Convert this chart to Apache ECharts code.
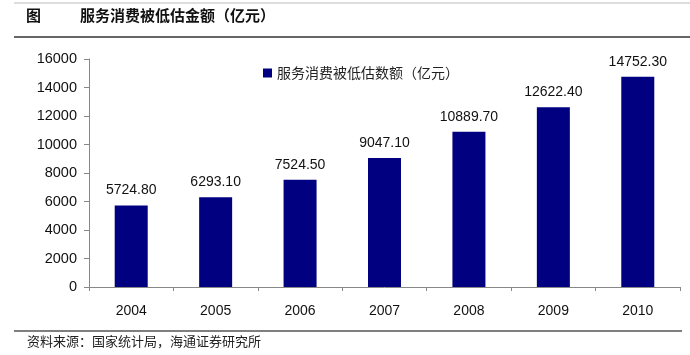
<!DOCTYPE html>
<html><head><meta charset="utf-8">
<script src="https://cdn.jsdelivr.net/npm/echarts@6/dist/echarts.min.js"></script>
<style>html,body{margin:0;padding:0;background:#fff}#c{width:690px;height:355px}</style>
</head><body><div id="c"></div>
<script>
const categories = ['2004','2005','2006','2007','2008','2009','2010'];
const values = [5724.80, 6293.10, 7524.50, 9047.10, 10889.70, 12622.40, 14752.30];
const seriesName = '服务消费被低估数额（亿元）';
const titleText = '服务消费被低估金额（亿元）';
const sourceText = '资料来源：国家统计局，海通证券研究所';

const chart = echarts.init(document.getElementById('c'));
chart.setOption({
  animation: false,
  backgroundColor: '#fff',
  grid: {left: 89, right: 10, top: 59, bottom: 68},
  legend: {
    data: [seriesName], left: 258, top: 61, itemWidth: 9, itemHeight: 9, itemGap: 4,
    icon: 'rect',
    textStyle: {fontFamily: 'Noto Sans CJK SC', fontSize: 14, color: '#222'}
  },
  graphic: [
    {type: 'line', shape: {x1: 14, y1: 3, x2: 690, y2: 3}, style: {stroke: '#bbb', lineWidth: 1}},
    {type: 'line', shape: {x1: 14, y1: 37, x2: 690, y2: 37}, style: {stroke: '#333', lineWidth: 1.5}},
    {type: 'text', left: 26, top: 8, style: {text: '图', font: 'bold 15px "Noto Sans CJK SC"', fill: '#111'}},
    {type: 'text', left: 80, top: 8, style: {text: titleText, font: 'bold 15px "Noto Sans CJK SC"', fill: '#111'}},
    {type: 'line', shape: {x1: 14, y1: 331, x2: 682, y2: 331}, style: {stroke: '#555', lineWidth: 1.5}},
    {type: 'text', left: 27, top: 335, style: {text: sourceText, font: '13px "Noto Sans CJK SC"', fill: '#222'}}
  ],
  xAxis: {
    type: 'category', data: categories,
    axisLine: {lineStyle: {color: '#888'}},
    axisTick: {show: true, length: 4, lineStyle: {color: '#888'}},
    axisLabel: {fontFamily: 'Liberation Sans', fontSize: 14, color: '#111', margin: 17}
  },
  yAxis: {
    type: 'value', min: 0, max: 16000, interval: 2000,
    axisLine: {show: true, lineStyle: {color: '#888'}},
    axisTick: {show: true, length: 5, lineStyle: {color: '#888'}},
    splitLine: {show: false},
    axisLabel: {fontFamily: 'Liberation Sans', fontSize: 14.5, color: '#111', margin: 12,
      formatter: v => String(v)}
  },
  series: [{
    name: seriesName, type: 'bar', data: values, barWidth: 33,
    itemStyle: {color: '#000080'},
    label: {show: true, position: 'top', distance: 8, fontFamily: 'Liberation Sans', fontSize: 14, color: '#111',
      formatter: p => p.value.toFixed(2)}
  }]
});
</script></body></html>
